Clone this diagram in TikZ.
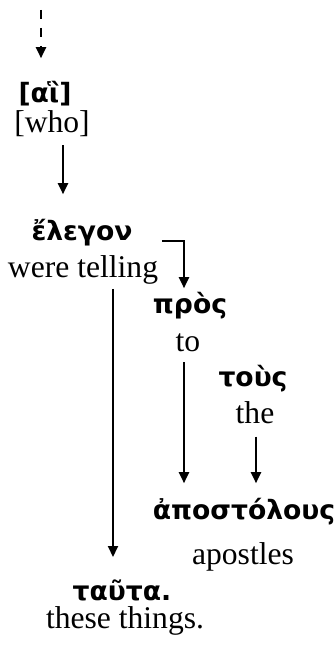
\documentclass[tikz,border=0pt]{standalone}
\usepackage{fontspec}
\setmainfont{Liberation Serif}
\newfontfamily\greekfont{DejaVu Sans}
\usetikzlibrary{arrows.meta,calc}

\tikzset{
  grk/.style={font=\greekfont\bfseries\fontsize{13.3}{15}\selectfont,inner sep=0pt},
  eng/.style={font=\fontsize{15.8}{18}\selectfont,inner sep=0pt},
  link/.style={line width=1pt,-{Triangle[width=5pt,length=5.5pt]}},
}

\begin{document}
\begin{tikzpicture}[x=0.5pt,y=-0.5pt]
\useasboundingbox (0,0) rectangle (335,647);
% words
\node[grk] (ai) at (45,94) {[αἳ]};
\node[eng] (who) at (52,124) {[who]};
\node[grk] (eleg) at (82,233) {ἔλεγον};
\node[eng] (tell) at (83,270) {were telling};
\node[grk] (pros) at (190,306) {πρὸς};
\node[eng] (to) at (188,343) {to};
\node[grk] (tous) at (253,379) {τοὺς};
\node[eng] (the) at (255,413) {the};
\node[grk] (apost) at (244,512) {ἀποστόλους};
\node[eng] (apostles) at (243,557) {apostles};
\node[grk] (tauta) at (122,590) {ταῦτα.};
\node[eng] (these) at (125,621) {these things.};
% links
\coordinate (top) at (41,10);
\draw[link,dash pattern=on 4.5pt off 4.5pt] (top) -- ($(ai.north -| top)+(0,-23)$);
\draw[link] ($(who.south)+(11,8)$) -- ($(eleg.north)+(-19,-25)$);
\draw[link] ($(eleg.east)+(29,8)$) -| ($(pros.north)+(-6,-4)$);
\draw[link] ($(tell.south)+(30,4)$) -- ($(tauta.north)+(-9,-22)$);
\draw[link] ($(to.south)+(-4,10)$) -- ($(apost.north)+(-60,-15)$);
\draw[link] ($(the.south)+(1,12)$) -- ($(apost.north)+(12,-15)$);
\end{tikzpicture}
\end{document}
